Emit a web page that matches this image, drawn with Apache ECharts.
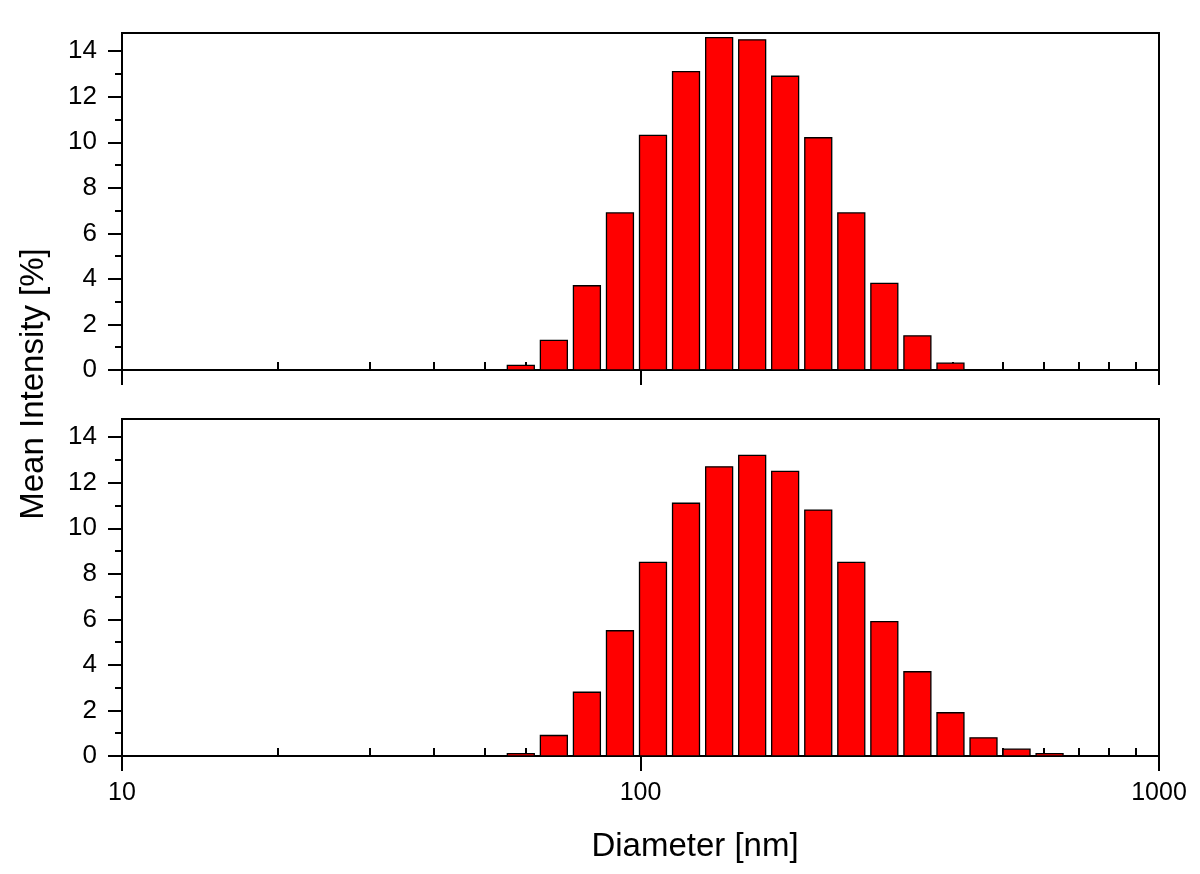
<!DOCTYPE html>
<html>
<head>
<meta charset="utf-8">
<script src="https://cdn.jsdelivr.net/npm/echarts@6/dist/echarts.min.js"></script>
<style>
  html, body { margin: 0; padding: 0; background: #fff; }
  #chart { width: 1200px; height: 874px; }
</style>
</head>
<body>
<div id="chart"></div>
<script>
// size bins (nm), shared by both panels
const diameters = [58.77, 68.06, 78.82, 91.28, 105.7, 122.4, 141.8, 164.2, 190.1, 220.2, 255.0, 295.3, 342.0, 396.1, 458.7, 531.2, 615.1];
const topIntensity = [0.2, 1.3, 3.7, 6.9, 10.3, 13.1, 14.6, 14.5, 12.9, 10.2, 6.9, 3.8, 1.5, 0.3];
const bottomIntensity = [0.1, 0.9, 2.8, 5.5, 8.5, 11.1, 12.7, 13.2, 12.5, 10.8, 8.5, 5.9, 3.7, 1.9, 0.8, 0.3, 0.1];

const xMajorTicks = [10, 100, 1000];
const xMinorTicks = [20, 30, 40, 50, 60, 70, 80, 90, 200, 300, 400, 500, 600, 700, 800, 900];
const yMajorTicks = [0, 2, 4, 6, 8, 10, 12, 14];
const yMinorTicks = [1, 3, 5, 7, 9, 11, 13];

const FONT = '"Liberation Sans", Arial, sans-serif';
const halfBar = Math.pow(10, 0.026); // half bar width in log space

const chart = echarts.init(document.getElementById('chart'));

function pairs(vals) {
  return vals.map((v, i) => [diameters[i], v]);
}

function renderBar(params, api) {
  const d = api.value(0);
  const v = api.value(1);
  const lt = api.coord([d / halfBar, v]);
  const rb = api.coord([d * halfBar, 0]);
  return {
    type: 'rect',
    shape: { x: lt[0], y: lt[1], width: rb[0] - lt[0], height: rb[1] - lt[1] },
    style: { fill: '#FF0000', stroke: '#000', lineWidth: 1.3 }
  };
}

function mainX(gridIndex, showLabel) {
  return {
    type: 'log', logBase: 10, gridIndex, min: 10, max: 1000,
    axisLine: { lineStyle: { color: '#000', width: 2 } },
    axisTick: { customValues: xMajorTicks, length: 15, lineStyle: { color: '#000', width: 2 } },
    axisLabel: {
      show: showLabel, customValues: xMajorTicks, fontSize: 25, color: '#000', fontFamily: FONT, margin: 25,
      formatter: (v) => String(Math.round(v))
    },
    splitLine: { show: false }
  };
}
function minorX(gridIndex) {
  return {
    type: 'log', logBase: 10, gridIndex, min: 10, max: 1000,
    axisLine: { show: false },
    axisTick: { customValues: xMinorTicks, length: 8, lineStyle: { color: '#000', width: 2 } },
    axisLabel: { show: false },
    splitLine: { show: false }
  };
}
function mainY(gridIndex) {
  return {
    type: 'value', gridIndex, min: 0, max: 14.8,
    axisLine: { show: true, lineStyle: { color: '#000', width: 2 } },
    axisTick: { show: true, customValues: yMajorTicks, length: 14, lineStyle: { color: '#000', width: 2 } },
    axisLabel: { customValues: yMajorTicks, fontSize: 26, color: '#000', fontFamily: FONT, margin: 25 },
    splitLine: { show: false }
  };
}
function minorY(gridIndex) {
  return {
    type: 'value', gridIndex, min: 0, max: 14.8, position: 'left',
    axisLine: { show: false },
    axisTick: { show: true, customValues: yMinorTicks, length: 7, lineStyle: { color: '#000', width: 2 } },
    axisLabel: { show: false },
    splitLine: { show: false }
  };
}

chart.setOption({
  animation: false,
  backgroundColor: '#fff',
  grid: [
    { left: 122, right: 41, top: 33, height: 337, show: true, borderColor: '#000', borderWidth: 2, backgroundColor: 'transparent' },
    { left: 122, right: 41, top: 419, height: 337, show: true, borderColor: '#000', borderWidth: 2, backgroundColor: 'transparent' }
  ],
  xAxis: [mainX(0, false), minorX(0), mainX(1, true), minorX(1)],
  yAxis: [mainY(0), minorY(0), mainY(1), minorY(1)],
  series: [
    { type: 'custom', xAxisIndex: 0, yAxisIndex: 0, renderItem: renderBar, data: pairs(topIntensity) },
    { type: 'custom', xAxisIndex: 2, yAxisIndex: 2, renderItem: renderBar, data: pairs(bottomIntensity) }
  ],
  graphic: [
    {
      type: 'text', x: 34, y: 384, rotation: Math.PI / 2,
      style: { text: 'Mean Intensity [%]', font: '33px ' + FONT, fill: '#000', textAlign: 'center', textVerticalAlign: 'middle' }
    },
    {
      type: 'text', x: 695, y: 847,
      style: { text: 'Diameter [nm]', font: '33px ' + FONT, fill: '#000', textAlign: 'center', textVerticalAlign: 'middle' }
    }
  ]
});
</script>
</body>
</html>
